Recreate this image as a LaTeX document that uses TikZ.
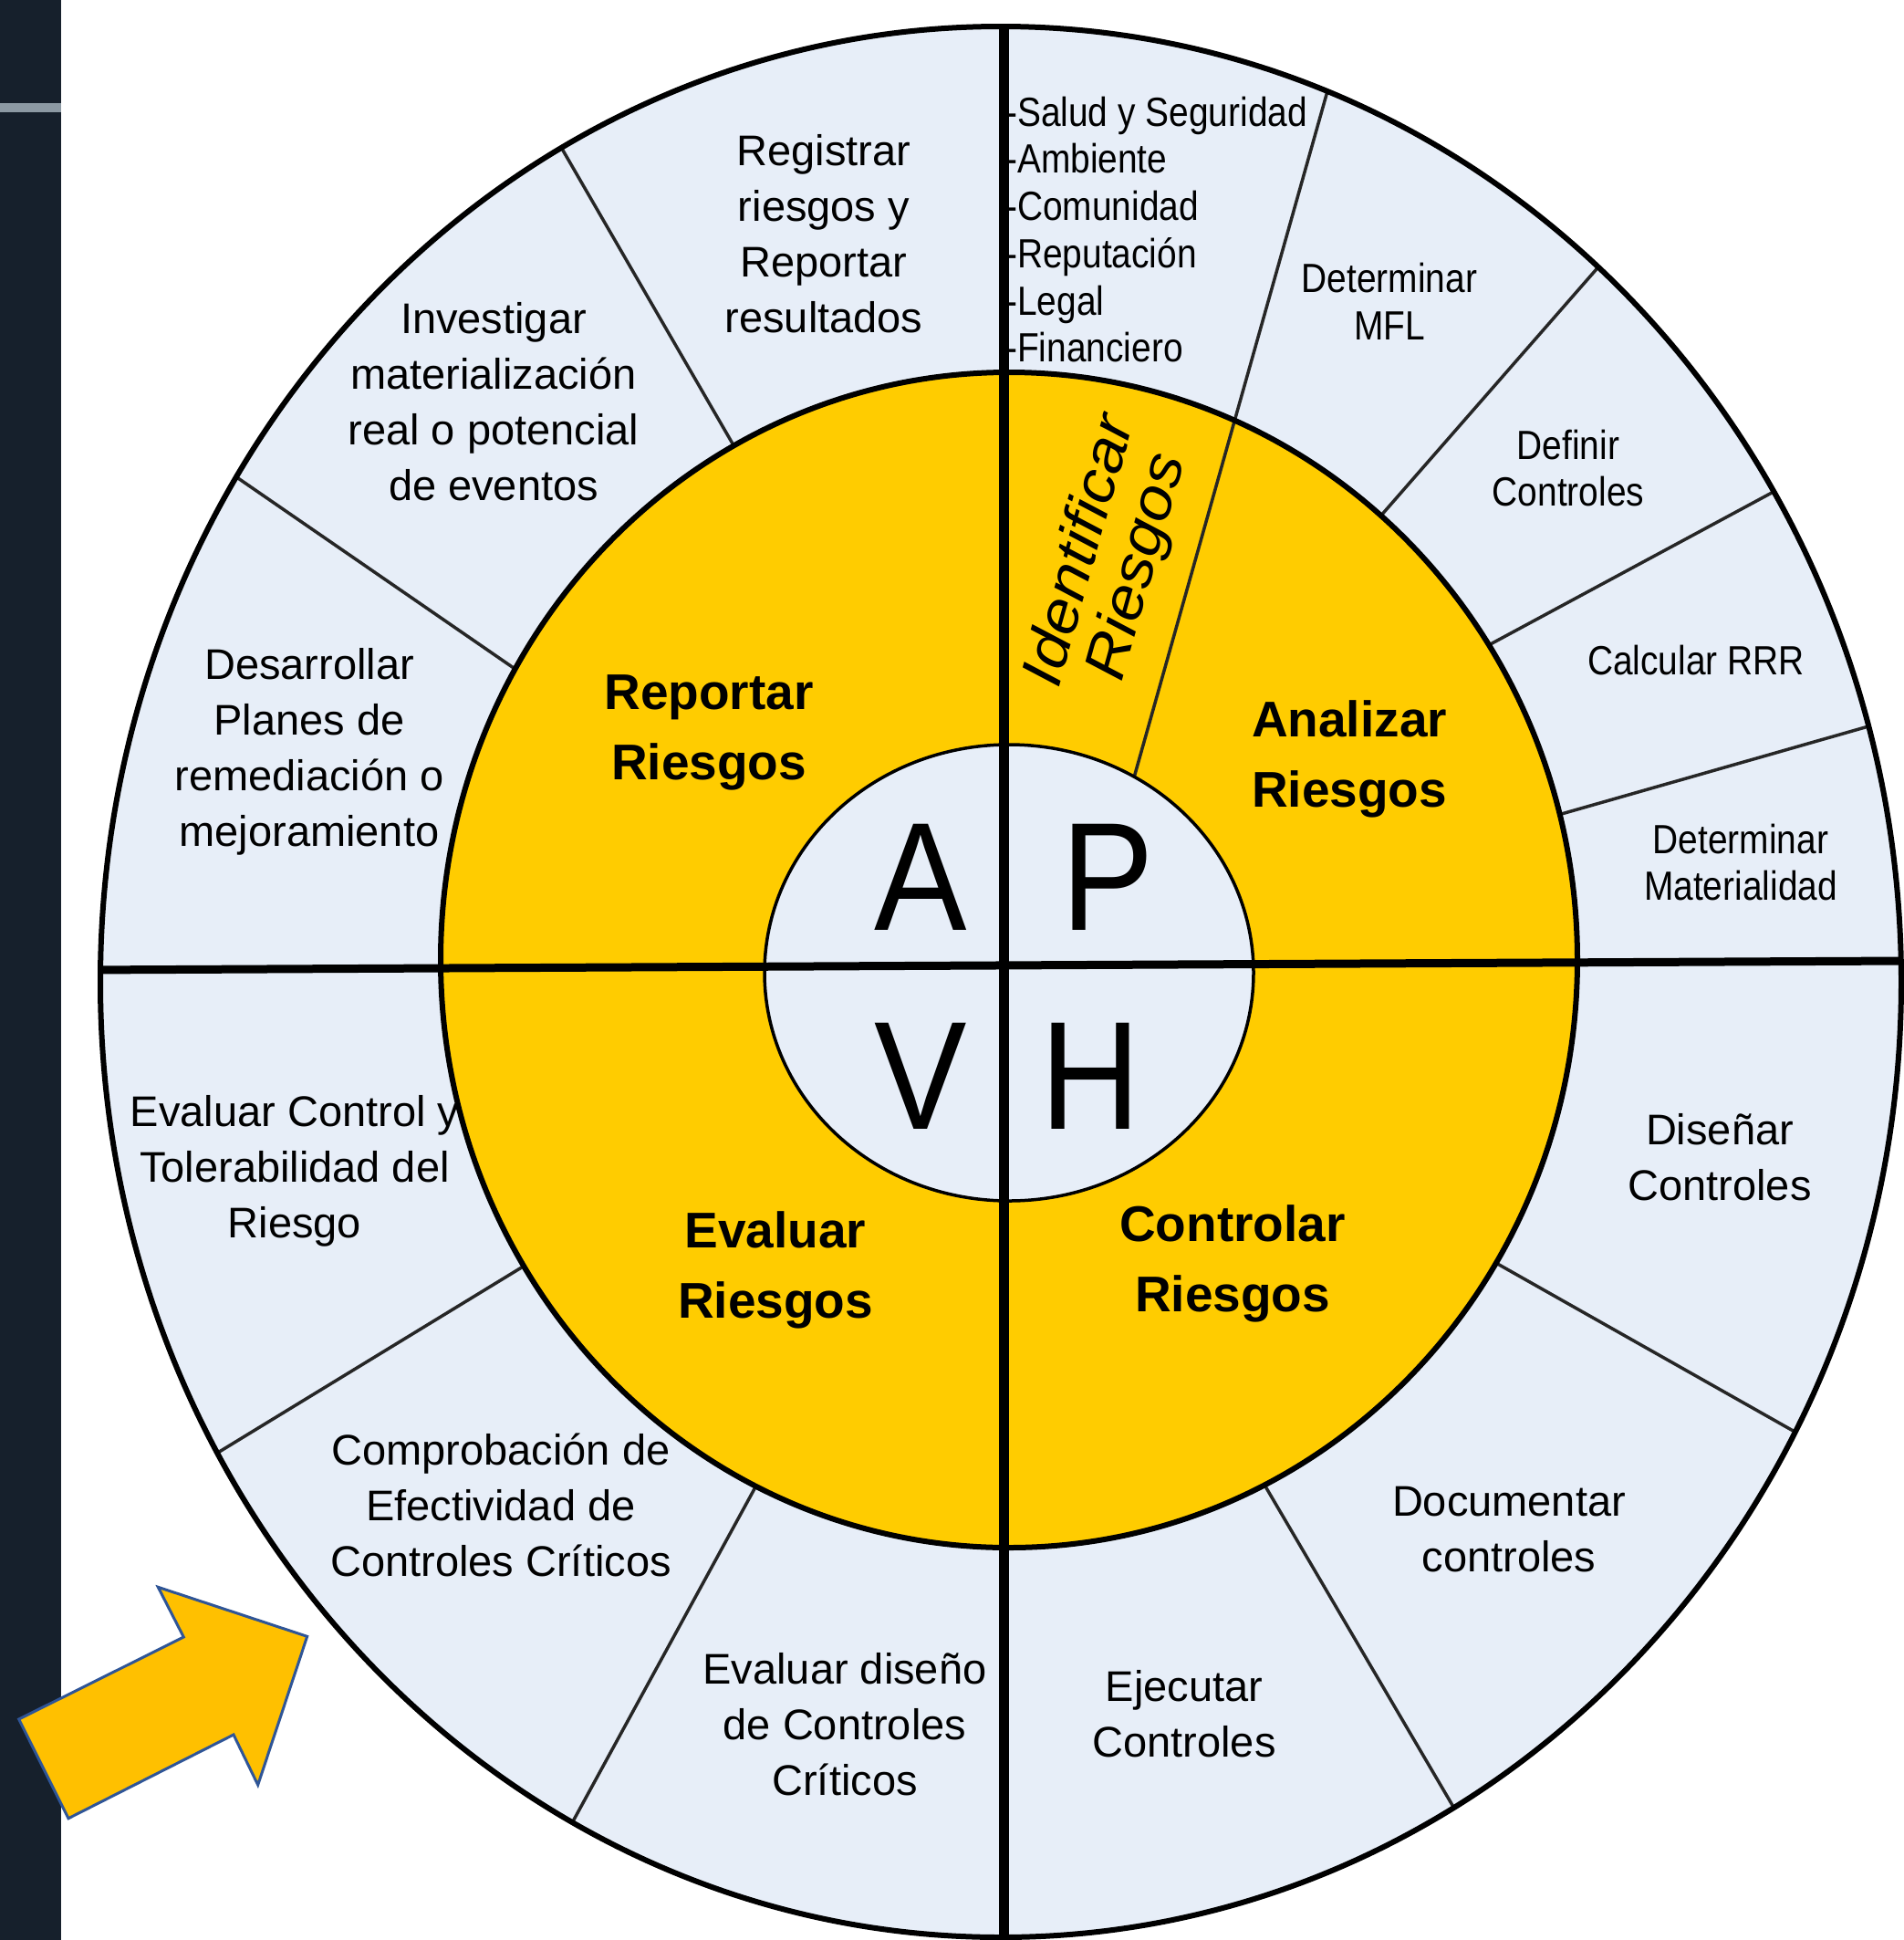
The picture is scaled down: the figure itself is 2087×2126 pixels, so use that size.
\documentclass[tikz,border=0pt]{standalone}
\usepackage{fontspec}
\setmainfont{Liberation Sans}
\newfontfamily\narrowfont[FakeStretch=0.87]{Liberation Sans}
\newfontfamily\bigfont[FakeStretch=0.9]{Liberation Sans}
\newfontfamily\widefont[FakeStretch=1.1]{Liberation Sans}
\definecolor{ringblue}{RGB}{231,238,248}
\definecolor{ringyellow}{RGB}{255,204,0}
\definecolor{arrowyellow}{RGB}{255,192,0}
\definecolor{arrowblue}{RGB}{47,85,151}
\definecolor{barnavy}{RGB}{22,32,44}
\definecolor{bargrey}{RGB}{140,153,163}
\usetikzlibrary{calc}
\begin{document}
\begin{tikzpicture}[x=1pt,y=-1pt,
  outertext/.style={align=center,inner sep=0pt,font=\fontsize{47}{61}\selectfont},
  smalltext/.style={align=center,inner sep=0pt,font=\narrowfont\fontsize{44.7}{51.7}\selectfont},
  listtext/.style={align=left,inner sep=0pt,anchor=west,font=\narrowfont\fontsize{44.7}{51.7}\selectfont},
  phasetext/.style={align=center,inner sep=0pt,font=\bfseries\fontsize{55}{77}\selectfont},
  bigletter/.style={inner sep=0pt,anchor=base,font=\bigfont\fontsize{169}{169}\selectfont},
  divider/.style={line width=3.5pt,draw=black!85,shorten <=-30pt,shorten >=-40pt},
  mainline/.style={draw=black},
]
\useasboundingbox (0,0) rectangle (2087,2126);
\fill[white] (0,0) rectangle (2087,2126);
\fill[barnavy] (0,0) rectangle (67,2126);
\fill[bargrey] (0,113) rectangle (67,123);

\coordinate (O) at (1097,1076);
\coordinate (Y) at (1106,1052);
\coordinate (I) at (1106,1066);

% divider end points
\coordinate (d1a) at (1245,845);  \coordinate (d1b) at (1453,107);
\coordinate (d2a) at (1519,559);  \coordinate (d2b) at (1749,296);
\coordinate (d3a) at (1641,702);  \coordinate (d3b) at (1942,540);
\coordinate (d4a) at (1715,891);  \coordinate (d4b) at (2048,796);
\coordinate (d5a) at (800,481);   \coordinate (d5b) at (616,163);
\coordinate (d6a) at (563,732);   \coordinate (d6b) at (258,522);
\coordinate (d7a) at (570,1390);  \coordinate (d7b) at (237,1593);
\coordinate (d8a) at (824,1637);  \coordinate (d8b) at (628,1996);
\coordinate (d9a) at (1645,1387); \coordinate (d9b) at (1969,1570);
\coordinate (d10a) at (1390,1634); \coordinate (d10b) at (1593,1980);
\coordinate (vt) at (1100,0);   \coordinate (vb) at (1100,2126);
\coordinate (hl) at (90,1063);  \coordinate (hr) at (2087,1053);

\fill[ringblue] (O) ellipse [x radius=987pt, y radius=1047pt];

\begin{scope}
  \clip (O) ellipse [x radius=987pt, y radius=1047pt];
  \foreach \p in {2,...,10} \draw[divider] (d\p a) -- (d\p b);
\end{scope}

\fill[ringyellow] (Y) ellipse [x radius=623pt, y radius=644pt];

\begin{scope}
  \clip (O) ellipse [x radius=987pt, y radius=1047pt];
  \draw[divider] (d1a) -- (d1b);
\end{scope}

\fill[ringblue] (I) ellipse [x radius=268pt, y radius=250pt];

% list of consequence areas (hyphens partly behind the axis line)
\node[listtext] (lst) at (1102,251.5) {-Salud y Seguridad\\-Ambiente\\-Comunidad\\-Reputación\\-Legal\\-Financiero};

\begin{scope}
  \clip (O) ellipse [x radius=987pt, y radius=1047pt];
  \draw[mainline, line width=11pt] (vt) -- (vb);
  \draw[mainline, line width=9pt] (hl) -- (hr);
\end{scope}

\draw[line width=6pt] (Y) ellipse [x radius=623pt, y radius=644pt];
\draw[line width=3.5pt] (I) ellipse [x radius=268pt, y radius=250pt];
\draw[line width=6pt] (O) ellipse [x radius=987pt, y radius=1047pt];

% centre letters
\node[bigletter] (lA) at (1009,1019) {A};
\node[bigletter] (lP) at (1214,1019) {P};
\node[bigletter] (lV) at (1009,1237) {V};
\node[bigletter] (lH) at (1195,1237) {H};

% phases
\node[phasetext] (rep) at (777,803) {Reportar\\Riesgos};
\node[phasetext] (ana) at (1479,832) {Analizar\\Riesgos};
\node[phasetext] (con) at (1351,1385) {Controlar\\Riesgos};
\node[phasetext] (eva) at (850,1392) {Evaluar\\Riesgos};
\node[align=center,inner sep=0pt,rotate=74.3,font=\widefont\itshape\fontsize{64}{65}\selectfont] (idr) at (1217,613) {Identificar\\Riesgos};

% outer ring texts
\node[outertext] (t1) at (903,256) {Registrar\\riesgos y\\Reportar\\resultados};
\node[outertext] (t2) at (541,440) {Investigar\\materialización\\real o potencial\\de eventos};
\node[outertext] (t3) at (339,824) {Desarrollar\\Planes de\\remediación o\\mejoramiento};
\node[outertext] (t4) at (323,1283) {Evaluar Control y\\Tolerabilidad del\\Riesgo};
\node[outertext] (t5) at (549,1649) {Comprobación de\\Efectividad de\\Controles Críticos};
\node[outertext] (t6) at (926,1890) {Evaluar diseño\\de Controles\\Críticos};
\node[outertext] (t7) at (1298,1878) {Ejecutar\\Controles};
\node[outertext] (t8) at (1654,1676) {Documentar\\controles};
\node[outertext] (t9) at (1885,1268) {Diseñar\\Controles};
\node[smalltext] (t10) at (1908,945) {Determinar\\Materialidad};
\node[smalltext] (t11) at (1859,724) {Calcular RRR};
\node[smalltext] (t12) at (1719,513) {Definir\\Controles};
\node[smalltext] (t13) at (1523,330) {Determinar\\MFL};

% pointing arrow
\draw[fill=arrowyellow, draw=arrowblue, line width=3pt, line join=miter]
  (20.7,1884) -- (201.3,1794) -- (173.3,1739.3) -- (336.7,1793.3)
  -- (282.7,1956) -- (256,1901) -- (75,1992.7) -- cycle;
\end{tikzpicture}
\end{document}
